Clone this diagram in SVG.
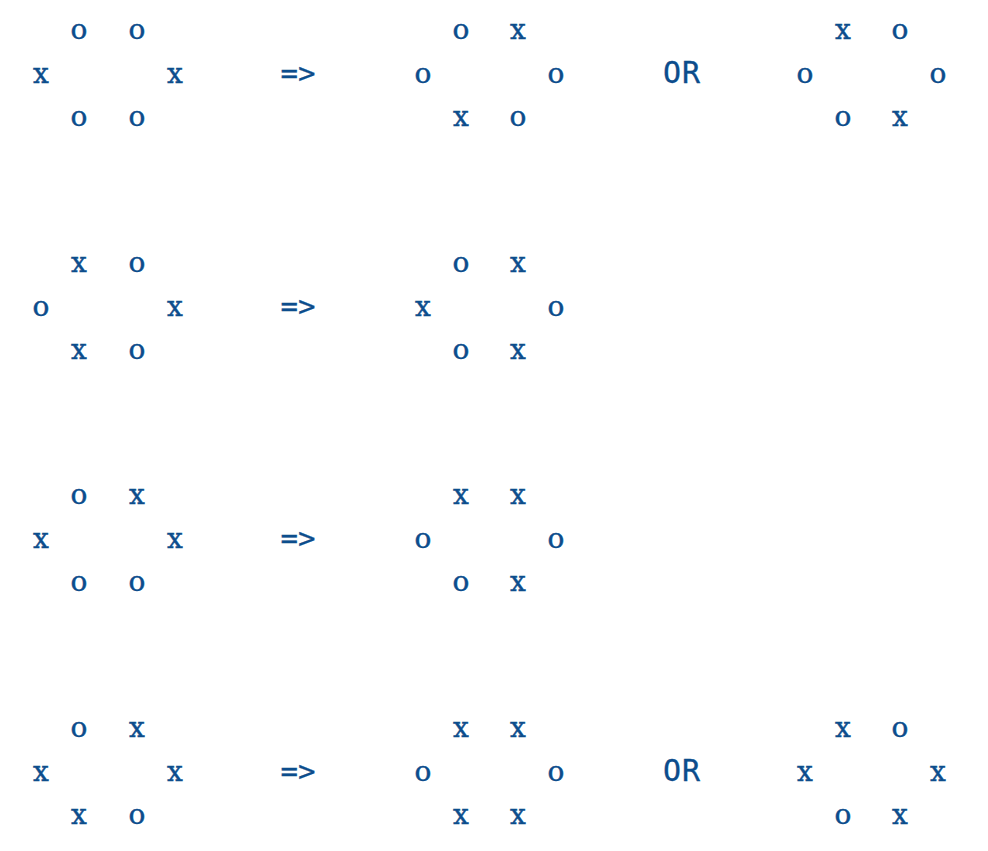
<svg xmlns="http://www.w3.org/2000/svg" width="988" height="851" viewBox="0 0 988 851">
<style>
text{font-family:"DejaVu Serif","Liberation Serif",serif;font-size:28px;fill:#0c4d8c;stroke:#0c4d8c;stroke-width:0.45px;text-anchor:middle}
.ar{font-family:"DejaVu Sans Mono",monospace;font-size:29px;stroke-width:0.3px}
.or{font-family:"DejaVu Sans Mono",monospace;font-size:30px;letter-spacing:1px;stroke-width:0.3px}
</style>
<rect width="988" height="851" fill="#fff"/>
<g id="row1">
<g id="r1-left"><text x="79" y="39">o</text><text x="137" y="39">o</text><text x="41" y="83">x</text><text x="175" y="83">x</text><text x="79" y="126">o</text><text x="137" y="126">o</text></g>
<text class="ar" x="298" y="83">=&gt;</text>
<g id="r1-mid"><text x="461" y="39">o</text><text x="518" y="39">x</text><text x="423" y="83">o</text><text x="556" y="83">o</text><text x="461" y="126">x</text><text x="518" y="126">o</text></g>
<text class="or" x="682" y="83">OR</text>
<g id="r1-right"><text x="843" y="39">x</text><text x="900" y="39">o</text><text x="805" y="83">o</text><text x="938" y="83">o</text><text x="843" y="126">o</text><text x="900" y="126">x</text></g>
</g>
<g id="row2">
<g id="r2-left"><text x="79" y="272">x</text><text x="137" y="272">o</text><text x="41" y="316">o</text><text x="175" y="316">x</text><text x="79" y="359">x</text><text x="137" y="359">o</text></g>
<text class="ar" x="298" y="316">=&gt;</text>
<g id="r2-mid"><text x="461" y="272">o</text><text x="518" y="272">x</text><text x="423" y="316">x</text><text x="556" y="316">o</text><text x="461" y="359">o</text><text x="518" y="359">x</text></g>
</g>
<g id="row3">
<g id="r3-left"><text x="79" y="504">o</text><text x="137" y="504">x</text><text x="41" y="548">x</text><text x="175" y="548">x</text><text x="79" y="591">o</text><text x="137" y="591">o</text></g>
<text class="ar" x="298" y="548">=&gt;</text>
<g id="r3-mid"><text x="461" y="504">x</text><text x="518" y="504">x</text><text x="423" y="548">o</text><text x="556" y="548">o</text><text x="461" y="591">o</text><text x="518" y="591">x</text></g>
</g>
<g id="row4">
<g id="r4-left"><text x="79" y="737">o</text><text x="137" y="737">x</text><text x="41" y="781">x</text><text x="175" y="781">x</text><text x="79" y="824">x</text><text x="137" y="824">o</text></g>
<text class="ar" x="298" y="781">=&gt;</text>
<g id="r4-mid"><text x="461" y="737">x</text><text x="518" y="737">x</text><text x="423" y="781">o</text><text x="556" y="781">o</text><text x="461" y="824">x</text><text x="518" y="824">x</text></g>
<text class="or" x="682" y="781">OR</text>
<g id="r4-right"><text x="843" y="737">x</text><text x="900" y="737">o</text><text x="805" y="781">x</text><text x="938" y="781">x</text><text x="843" y="824">o</text><text x="900" y="824">x</text></g>
</g>
</svg>
